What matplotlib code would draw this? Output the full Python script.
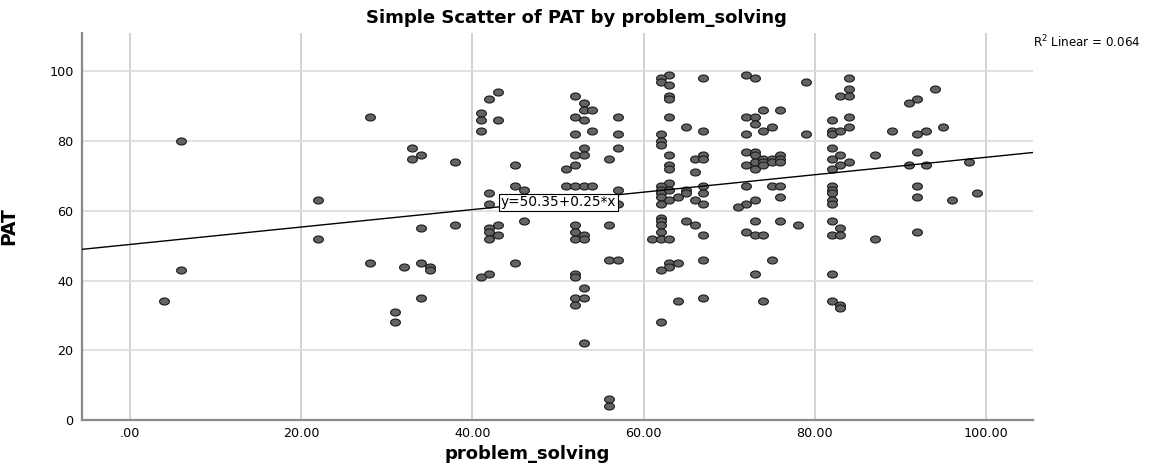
import numpy as np
import matplotlib
matplotlib.use("Agg")
import matplotlib.pyplot as plt
from matplotlib.path import Path

# ---- data ----
problem_solving = [
    6, 6, 4,
    22, 22, 28, 28, 33, 34, 33, 38, 34, 38, 32, 34, 35, 35, 34, 31, 31,
    43, 42, 41, 41, 43, 41,
    52, 53, 53, 54, 52, 53, 54, 52,
    57, 57, 57, 56, 53, 52, 53, 52, 51,
    45, 45, 46, 42, 42, 51, 52, 53, 54, 57, 57,
    46, 43, 42, 42, 42, 43, 52, 52, 52, 53, 53, 56,
    45, 42, 41, 52, 52, 53, 52, 53, 52, 53, 56, 57, 56, 56,
    63, 62, 62, 63, 63, 63, 67, 72, 73,
    63, 65, 67, 62, 62, 62,
    72, 73, 74, 76, 73, 75, 74, 72,
    63, 63, 63, 66, 67, 67, 66,
    72, 73, 73, 73, 73, 74, 74, 74, 75, 75, 76, 76, 76, 72,
    63, 62, 62, 62, 62, 62, 63, 63, 64, 65, 65, 67, 67, 66, 67,
    72, 75, 76, 76, 73, 72, 71,
    62, 62, 62, 62, 65, 66, 67, 61, 62, 63,
    73, 76, 72, 73, 74,
    63, 64, 63, 62, 67, 73, 75, 64, 67, 74, 62,
    79, 84, 84, 83, 84, 94, 92, 91,
    82, 84, 82, 82, 83, 84, 79, 89, 92, 93, 95,
    82, 82, 83, 84, 83, 82, 87, 92, 91, 93,
    82, 82, 82, 82, 82, 92, 92, 96,
    78, 82, 83, 82, 83, 87, 92,
    82, 82, 83, 83,
    98, 99,
]
PAT = [
    80, 43, 34,
    63, 52, 87, 45, 78, 76, 75, 74, 55, 56, 44, 45, 44, 43, 35, 31, 28,
    94, 92, 88, 86, 86, 83,
    93, 91, 89, 89, 87, 86, 83, 82,
    87, 82, 78, 75, 78, 76, 76, 73, 72,
    73, 67, 66, 65, 62, 67, 67, 67, 67, 66, 62,
    57, 56, 55, 54, 52, 53, 56, 54, 52, 53, 52, 56,
    45, 42, 41, 42, 41, 38, 35, 35, 33, 22, 46, 46, 6, 4,
    99, 98, 97, 96, 93, 92, 98, 99, 98,
    87, 84, 83, 82, 80, 79,
    87, 87, 89, 89, 85, 84, 83, 82,
    76, 73, 72, 75, 76, 75, 71,
    77, 77, 76, 74, 72, 75, 74, 73, 75, 74, 76, 75, 74, 73,
    68, 67, 66, 65, 64, 62, 66, 63, 64, 66, 65, 67, 65, 63, 62,
    67, 67, 67, 64, 63, 62, 61,
    58, 57, 56, 54, 57, 56, 53, 52, 52, 52,
    57, 57, 54, 53, 53,
    45, 45, 44, 43, 46, 42, 46, 34, 35, 34, 28,
    97, 98, 95, 93, 93, 95, 92, 91,
    86, 87, 83, 82, 83, 84, 82, 83, 82, 83, 84,
    78, 75, 76, 74, 73, 72, 76, 77, 73, 73,
    67, 66, 65, 63, 62, 67, 64, 63,
    56, 57, 55, 53, 53, 52, 54,
    42, 34, 33, 32,
    74, 65,
]
fit_intercept = 50.35
fit_slope = 0.25
r2_text = "R$^2$ Linear = 0.064"
x_ticks = [0, 20, 40, 60, 80, 100]
x_ticklabels = [".00", "20.00", "40.00", "60.00", "80.00", "100.00"]
y_ticks = [0, 20, 40, 60, 80, 100]

plt.rcParams['font.family'] = ['DejaVu Sans']

W, H = 1156, 470
fig = plt.figure(figsize=(W / 100, H / 100), dpi=100)
ax = fig.add_axes([82 / W, 1 - 420 / H, (1033 - 82) / W, (420 - 33) / H])

xmin, xmax = -5.6, 105.5
ymin, ymax = 0, 111
ax.set_xlim(xmin, xmax)
ax.set_ylim(ymin, ymax)

# grid
for xv in x_ticks:
    ax.axvline(xv, color="#cbcbcb", lw=1.2, zorder=0)
for yv in y_ticks[1:]:
    ax.axhline(yv, color="#dcdcdc", lw=1.2, zorder=0)

# elliptical marker (SPSS look)
t = np.linspace(0, 2 * np.pi, 40)
ell = Path(np.column_stack([1.4 * np.cos(t), np.sin(t)]), closed=True)
ax.scatter(problem_solving, PAT, s=50, marker=ell, facecolor="#636363",
           edgecolor="#1a1a1a", linewidths=0.8, zorder=3)

# fit line
xl = np.array([xmin, xmax])
ax.plot(xl, fit_intercept + fit_slope * xl, color="black", lw=1.0, zorder=4)
ax.text(43.3, 62.4, "y=50.35+0.25*x", fontsize=9.8, ha="left", va="center",
        zorder=5,
        bbox=dict(boxstyle="square,pad=0.12", facecolor="white",
                  edgecolor="black", linewidth=0.8))

ax.set_xticks(x_ticks)
ax.set_xticklabels(x_ticklabels)
ax.set_yticks(y_ticks)
ax.tick_params(axis="both", length=0, labelsize=9.2, colors="black")
ax.tick_params(axis="x", pad=5)
ax.tick_params(axis="y", pad=6)

for side in ["top", "right"]:
    ax.spines[side].set_visible(False)
for side in ["left", "bottom"]:
    ax.spines[side].set_color("#8a8a8a")
    ax.spines[side].set_linewidth(1.6)

ax.set_xlabel("problem_solving", fontsize=13, fontweight="bold", va="center")
ax.xaxis.set_label_coords((527 - 82) / 951, -(454 - 420) / 387)
ax.set_ylabel("PAT", fontsize=13.5, fontweight="bold")
ax.yaxis.set_label_coords((18 - 82) / 951, 0.5)

fig.text(576 / W, 1 - 18 / H, "Simple Scatter of PAT by problem_solving",
         fontsize=13, fontweight="bold", ha="center", va="center")
fig.text(1033 / W, 1 - 42 / H, r2_text, fontsize=8.6, ha="left", va="center")

fig.savefig("out.png", dpi=100)
